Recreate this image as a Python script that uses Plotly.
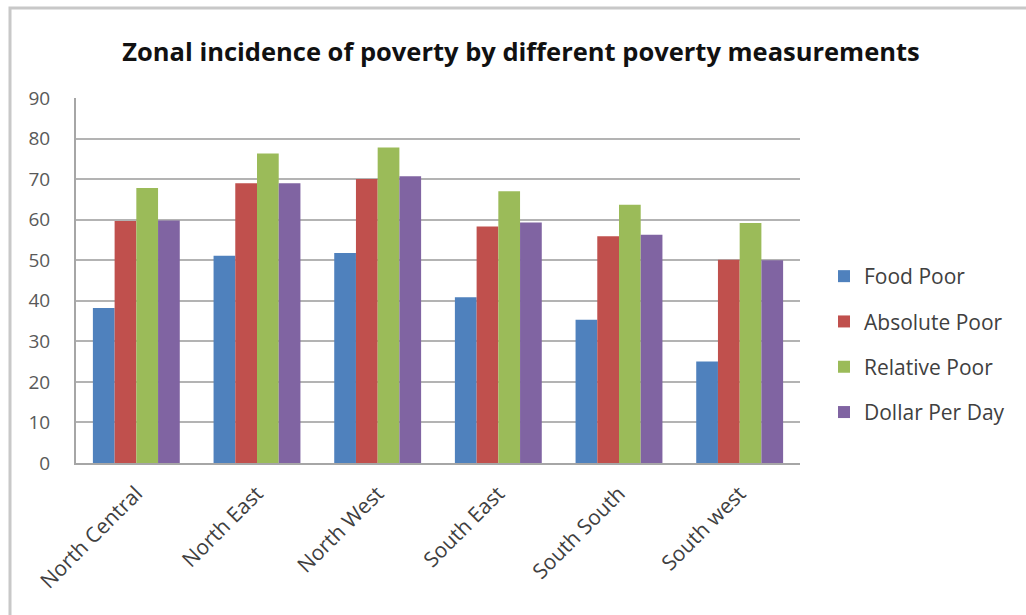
import plotly.graph_objects as go

zones = ["North Central", "North East", "North West", "South East", "South South", "South west"]
food_poor = [38.2, 51.1, 51.8, 40.9, 35.3, 25.0]
absolute_poor = [59.7, 69.0, 70.0, 58.3, 55.9, 50.1]
relative_poor = [67.8, 76.3, 77.8, 67.0, 63.7, 59.2]
dollar_per_day = [59.8, 69.0, 70.7, 59.3, 56.3, 50.0]
series_names = ["Food Poor", "Absolute Poor", "Relative Poor", "Dollar Per Day"]
colors = ["#4F81BD", "#C0504D", "#9BBB59", "#8064A2"]
y_ticks = [0, 10, 20, 30, 40, 50, 60, 70, 80, 90]

W, H = 1026, 615
L, R, T, B = 76, 800, 98, 463

fig = go.Figure()
for i, (name, vals) in enumerate(zip(series_names, [food_poor, absolute_poor, relative_poor, dollar_per_day])):
    fig.add_trace(go.Bar(x=zones, y=vals, name=name, marker=dict(color=colors[i], line=dict(width=0)),
                         legendgroup=f"g{i}"))

def px_x(px):
    return (px - L) / (R - L)

def px_y(py):
    return (B - py) / (B - T)

fig.update_layout(
    width=W, height=H,
    margin=dict(l=L, r=W - R, t=T, b=H - B, pad=0),
    paper_bgcolor="white", plot_bgcolor="white",
    barmode="group", bargap=0.28, bargroupgap=0,
    font=dict(family="Open Sans, DejaVu Sans, sans-serif", color="#595959", size=13),
    title=dict(text="<b>Zonal incidence of poverty by different poverty measurements</b>",
               x=521 / W, xanchor="center", y=1 - 52 / H, yanchor="middle",
               font=dict(family="Open Sans, sans-serif", size=25.5, color="#111111")),
    legend=dict(x=px_x(824), xanchor="left", y=px_y(256), yanchor="top",
                font=dict(size=21, color="#404040"), tracegroupgap=15,
                bgcolor="rgba(0,0,0,0)", itemwidth=30),
    xaxis=dict(tickangle=-45, showline=True, linecolor="#a6a6a6", linewidth=2,
               ticks="", tickfont=dict(size=21, color="#404040"), showgrid=False,
               ticklabelstandoff=8),
    yaxis=dict(range=[0, 90], tickvals=y_ticks, showgrid=True, gridcolor="#b3b3b3", gridwidth=2,
               showline=True, linecolor="#a6a6a6", linewidth=2, ticks="", zeroline=False,
               tickfont=dict(size=19, color="#595959"), ticklabelstandoff=20),
    shapes=[
        dict(type="rect", xref="paper", yref="paper",
             x0=px_x(10), x1=px_x(1040), y0=px_y(640), y1=px_y(8),
             line=dict(color="#c8c8c8", width=3), fillcolor="rgba(0,0,0,0)", layer="below"),
    ],
)

fig.write_html("out.html")
